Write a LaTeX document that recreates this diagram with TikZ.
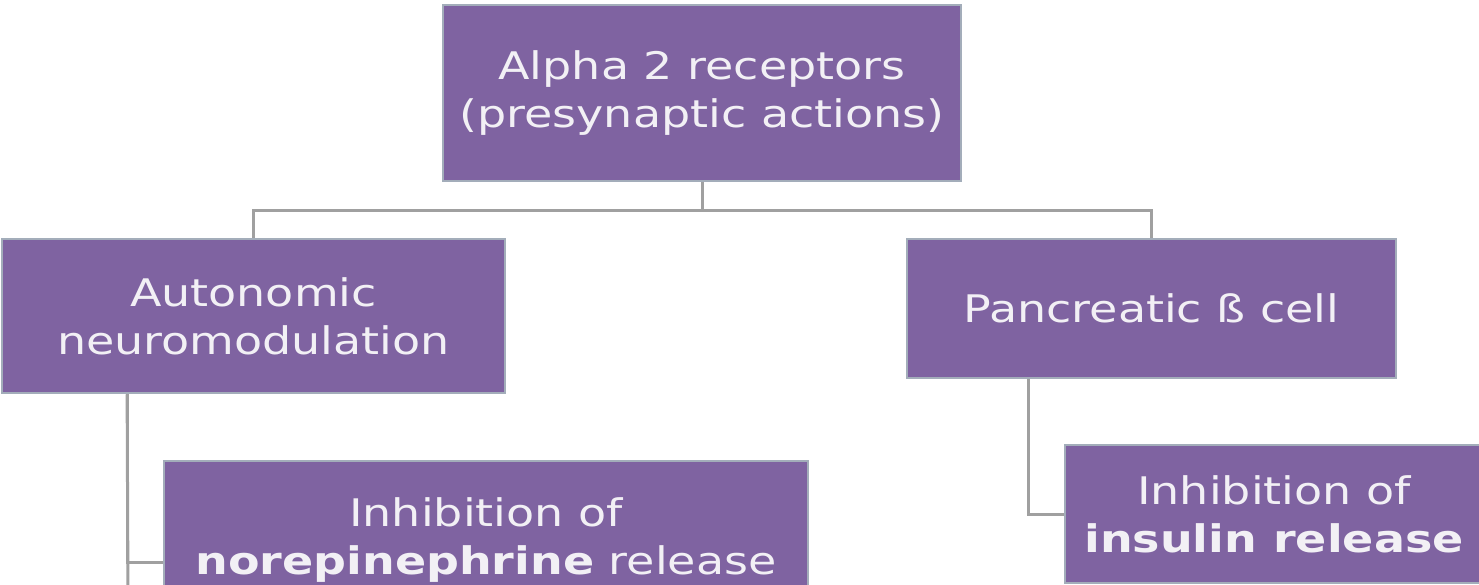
\documentclass[tikz,border=0pt]{standalone}
\usepackage{fontspec}
\setmainfont{DejaVu Sans}[FakeStretch=1.21]
\usetikzlibrary{calc}
\definecolor{boxfill}{HTML}{7F63A1}
\definecolor{boxline}{HTML}{A3ADBA}
\definecolor{linkgray}{HTML}{A0A0A0}
\definecolor{boxtext}{HTML}{F2F0F5}
\tikzset{
 box/.style={draw=boxline, line width=2.5pt, fill=boxfill, text=boxtext,
  align=center, inner sep=0pt, font=\fontsize{38}{48}\selectfont},
 link/.style={draw=linkgray, line width=3pt},
}

\begin{document}
\begin{tikzpicture}[x=1pt,y=-1pt]
\useasboundingbox (0,0) rectangle (1479,585);
\clip (0,0) rectangle (1479,585);

%top
\node[box, minimum width=518pt, minimum height=176pt] (alpha) at (702,93)
 {Alpha 2 receptors\\(presynaptic actions)};

%row-2
\node[box, minimum width=503pt, minimum height=154pt] (auto) at (253.5,316)
 {Autonomic\\neuromodulation};
\node[box, minimum width=489pt, minimum height=139pt] (panc) at (1151.5,308.5)
 {Pancreatic ß cell};

%row-3
\node[box, minimum width=644pt, minimum height=158pt] (ne) at (486,540)
 {Inhibition of\\\textbf{norepinephrine} release};
\node[box, minimum width=418pt, minimum height=138pt] (ins) at (1274,514)
 {Inhibition of\\\textbf{insulin release}};

\coordinate (nejoin) at ([yshift=-22pt]ne.west);
\coordinate (autoend) at (128,600);

%links
\draw[link] (alpha.south) -- ++(0,28) -| (auto.north);
\draw[link] (alpha.south) -- ++(0,28) -| (panc.north);
\draw[link] ($(auto.south west)!0.25!(auto.south east)$) -- (autoend);
\draw[link] ($(auto.south west)!0.25!(auto.south east)$) |- (nejoin);
\draw[link] ($(panc.south west)!0.25!(panc.south east)$) |- (ins.west);
\end{tikzpicture}
\end{document}
